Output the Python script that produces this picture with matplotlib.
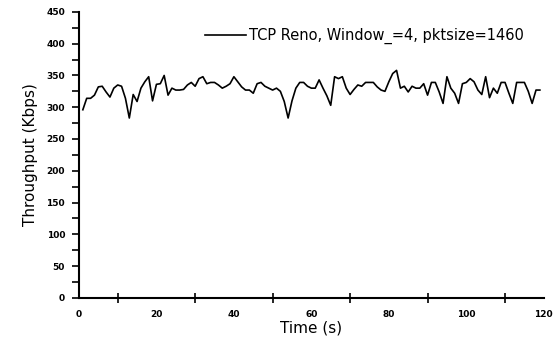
import numpy as np
import matplotlib
matplotlib.use("Agg")
import matplotlib.pyplot as plt
from matplotlib.ticker import MultipleLocator, FixedLocator

times = list(range(1, 120))
throughput = [
    296, 314, 314, 319, 332, 333, 324, 316, 330, 335,
    333, 314, 283, 320, 309, 330, 340, 348, 310, 336,
    337, 350, 319, 330, 327, 327, 328, 335, 339, 333,
    345, 348, 337, 339, 339, 335, 330, 333, 337, 348,
    340, 332, 327, 327, 322, 337, 339, 333, 330, 327,
    330, 325, 309, 283, 310, 330, 339, 339, 333, 330,
    330, 343, 330, 318, 303, 348, 345, 348, 330, 320,
    328, 335, 333, 339, 339, 339, 332, 327, 325, 340,
    353, 358, 330, 333, 324, 333, 330, 330, 337, 319,
    339, 339, 324, 306, 348, 330, 322, 306, 337, 339,
    345, 340, 327, 320, 348, 315, 330, 322, 339, 339,
    322, 306, 339, 339, 339, 325, 306, 327, 327,
]
times = times[:len(throughput)]
legend_label = "TCP Reno, Window_=4, pktsize=1460"
x_major = [0, 20, 40, 60, 80, 100, 120]
x_minor = [10, 30, 50, 70, 90, 110]

fig = plt.figure(figsize=(5.6, 3.5), dpi=100)
ax = fig.add_axes([0.141, 0.149, 0.83, 0.817])
ax.plot(times, throughput, color="black", linewidth=1.2, label=legend_label)

ax.set_xlim(0, 120)
ax.set_ylim(0, 450)
ax.spines["top"].set_visible(False)
ax.spines["right"].set_visible(False)
ax.spines["left"].set_linewidth(1.5)
ax.spines["bottom"].set_linewidth(1.5)

ax.xaxis.set_major_locator(FixedLocator(x_major))
ax.xaxis.set_minor_locator(FixedLocator(x_minor))
ax.yaxis.set_major_locator(MultipleLocator(50))
ax.yaxis.set_minor_locator(MultipleLocator(25))
ax.tick_params(axis="x", which="major", length=0, pad=9, labelsize=6.5)
ax.tick_params(axis="x", which="minor", direction="inout", length=7, width=1.2)
ax.tick_params(axis="y", which="both", direction="out", length=5, width=1.2, labelsize=6.5, pad=5)
for lab in ax.get_xticklabels() + ax.get_yticklabels():
    lab.set_fontweight("bold")

ax.set_xlabel("Time (s)", fontsize=11, labelpad=1)
ax.set_ylabel("Throughput (Kbps)", fontsize=11, labelpad=6)

ax.legend(loc="upper right", frameon=False, fontsize=10.5, handlelength=2.8,
          handletextpad=0.2, bbox_to_anchor=(0.985, 0.99))

fig.savefig("out.png", dpi=100, facecolor="white")
